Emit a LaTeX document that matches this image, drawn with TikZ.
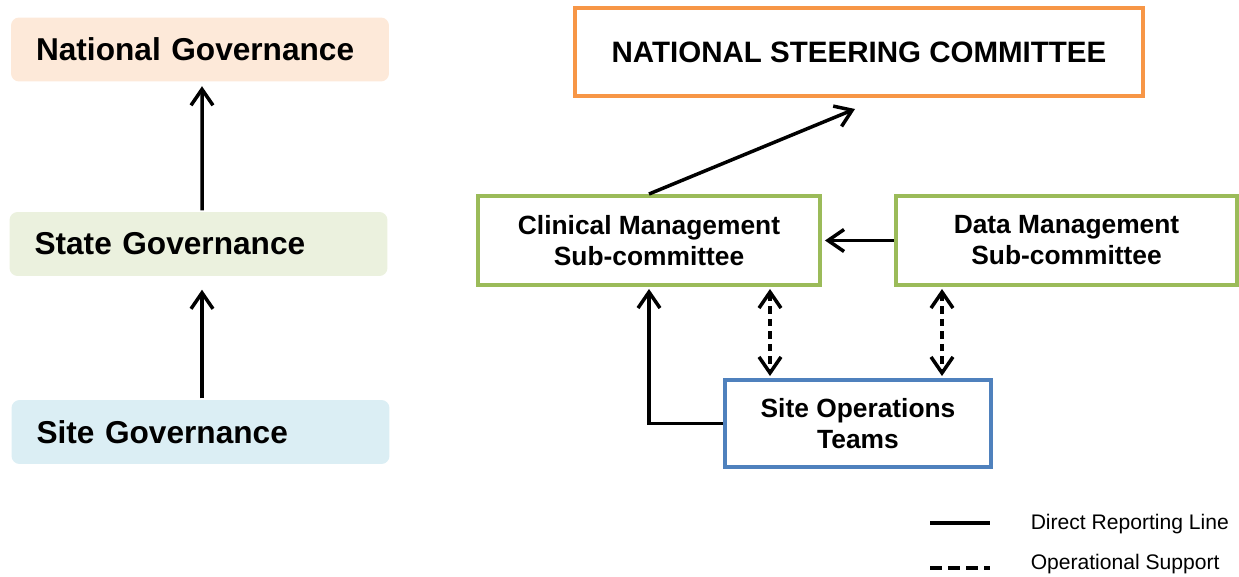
\documentclass[tikz,border=0pt]{standalone}
\usepackage{fontspec}
\setmainfont{Liberation Sans}
\usetikzlibrary{arrows.meta}

\definecolor{natfill}{HTML}{FDE9D9}
\definecolor{statefill}{HTML}{EBF1DE}
\definecolor{sitefill}{HTML}{DBEEF4}
\definecolor{nscline}{HTML}{F79646}
\definecolor{subline}{HTML}{9BBB59}
\definecolor{opsline}{HTML}{4F81BD}

\begin{document}
\begin{tikzpicture}[x=0.02cm, y=-0.02cm, line width=0.07cm,
    >={Straight Barb[length=0.32cm,width=0.44cm]},
    gov/.style={rounded corners=0.16cm, minimum height=1.28cm, text width=6.56cm, align=left, inner xsep=0.5cm, font=\fontsize{18}{21}\selectfont\bfseries},
    board/.style={draw, line width=0.08cm, fill=white, align=center, font=\fontsize{15}{17.6}\selectfont\bfseries},
    ops/.style={dash pattern=on 0.15cm off 0.1cm},
    key/.style={anchor=west, inner sep=0pt, font=\fontsize{12}{14}\selectfont}]
    \useasboundingbox (0,0) rectangle (1239,577);

    % governance levels
    \node[gov, fill=natfill] (N) at (200,49.5) {National Governance};
    \node[gov, fill=statefill] (S) at (198.5,244) {State Governance};
    \node[gov, fill=sitefill] (G) at (200.5,432) {Site Governance};

    \draw[->] ([shift={(3.5,0)}]S.north) -- ([shift={(2,3)}]N.south);
    \draw[->] ([shift={(1.5,0)}]G.north) -- ([shift={(3.5,12)}]S.south);

    % committees
    \node[board, draw=nscline, minimum width=11.36cm, minimum height=1.76cm, font=\fontsize{16.8}{20}\selectfont\bfseries] (NSC) at (859,52) {NATIONAL STEERING COMMITTEE};
    \node[board, draw=subline, minimum width=6.84cm, minimum height=1.78cm] (CM) at (649,240.5) {Clinical Management\\Sub-committee};
    \node[board, draw=subline, minimum width=6.82cm, minimum height=1.78cm] (DM) at (1066.5,240.5) {Data Management\\Sub-committee};
    \node[board, draw=opsline, minimum width=5.32cm, minimum height=1.74cm] (SO) at (858,423.5) {Site Operations\\Teams};

    \draw[->] (CM.north) -- ([shift={(-4,11)}]NSC.south);
    \draw[->] (DM.west) -- ([xshift=0.06cm]CM.east);
    \draw[->] (SO.west) -| ([yshift=-0.04cm]CM.south);
    \draw[<->, ops] ([shift={(121,2)}]CM.south) -- ([shift={(-88,-2)}]SO.north);
    \draw[<->, ops] ([shift={(-124.5,2)}]DM.south) -- ([shift={(84,-2)}]SO.north);

    % legend
    \coordinate (A1) at (930,523);
    \coordinate (A2) at (990,523);
    \coordinate (B1) at (930,568);
    \coordinate (B2) at (990,568);
    \draw (A1) -- (A2);
    \draw[dash pattern=on 0.24cm off 0.12cm] (B1) -- (B2);
    \node[key] (KA) at (1029,524) {Direct Reporting Line};
    \node[key] (KB) at (1029,564) {Operational Support};
\end{tikzpicture}
\end{document}
